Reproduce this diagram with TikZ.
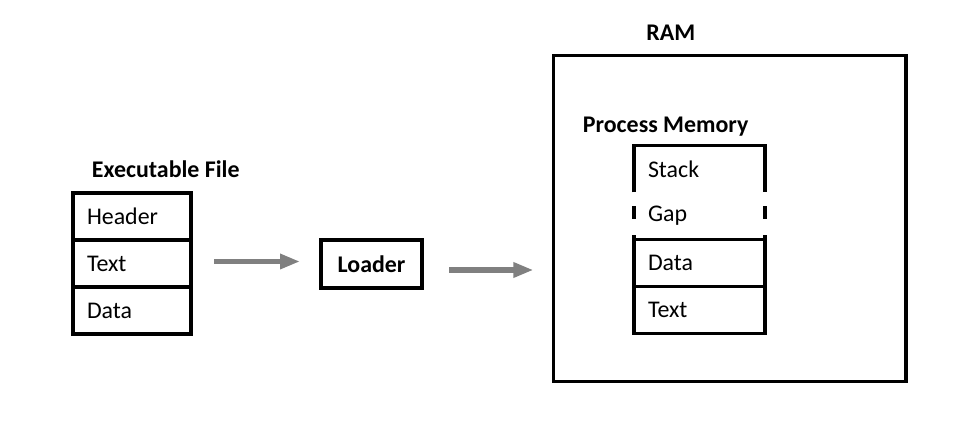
\documentclass[tikz,border=0pt]{standalone}
\usepackage{fontspec}
\setmainfont{Carlito}
\usetikzlibrary{positioning,arrows.meta}

\begin{document}
\begin{tikzpicture}[node distance=1.175cm,
  cell/.style={draw, line width=2.4pt, outer sep=0pt, minimum width=2.95cm, minimum height=1.175cm, text width=2.25cm, inner xsep=0.35cm, align=left, font=\fontsize{17}{20}\selectfont},
  memcell/.style={cell, minimum width=3.275cm, text width=2.575cm},
  title/.style={font=\fontsize{17}{20}\selectfont\bfseries},
  flow/.style={draw=gray, line width=0.13cm, -{Triangle[length=0.5cm, width=0.36cm]}}]

  \useasboundingbox (0,0) rectangle (24,-10.575);

  % Executable file
  \node[cell] (F1) at (3.3,-5.4125) {Header};
  \node[cell, below of=F1] (F2) {Text};
  \node[cell, below of=F2] (F3) {Data};
  \node[title, anchor=base west] (FT) at ([xshift=0.35cm, yshift=0.375cm]F1.north west) {Executable File};

  % Loader
  \node[draw, line width=2.4pt, outer sep=0pt, minimum width=2.525cm, minimum height=1.2cm, title] (L) at (9.2875,-6.6) {Loader};

  % RAM
  \node[draw, line width=2.4pt, outer sep=0pt, minimum width=8.81cm, minimum height=8.15cm] (R) at (18.24,-5.4625) {};
  \node[title, anchor=base] (RT) at ([xshift=2.9375cm, yshift=0.3625cm]R.north west) {RAM};

  % Process memory
  \node[memcell, draw=none] (S1) at (17.4875,-4.225) {Stack};
  \node[memcell, draw=none, below of=S1] (S2) {Gap};
  \node[memcell, below of=S2] (S3) {Data};
  \node[memcell, below of=S3] (S4) {Text};
  \node[title, anchor=base west] (PT) at ([xshift=-1.4cm, yshift=0.325cm]S1.north west) {Process Memory};

  % Stack and gap borders
  \draw[line width=2.4pt] (S1.south west) -- (S1.north west) -- (S1.north east) -- (S1.south east);
  \draw[line width=2.4pt, dash pattern=on 0.325cm off 0.4cm, dash phase=0.375cm] (S2.north west) -- (S2.south west);
  \draw[line width=2.4pt, dash pattern=on 0.325cm off 0.4cm, dash phase=0.375cm] (S2.north east) -- (S2.south east);

  % Arrows
  \draw[flow, shorten <=0.575cm, shorten >=0.525cm] ([yshift=0.05cm]F2.east) -- ([yshift=0.05cm]F2.east -| L.west);
  \draw[flow, shorten <=0.675cm, shorten >=0.5cm] ([yshift=-0.15cm]L.east) -- ([yshift=-0.15cm]L.east -| R.west);

\end{tikzpicture}
\end{document}
